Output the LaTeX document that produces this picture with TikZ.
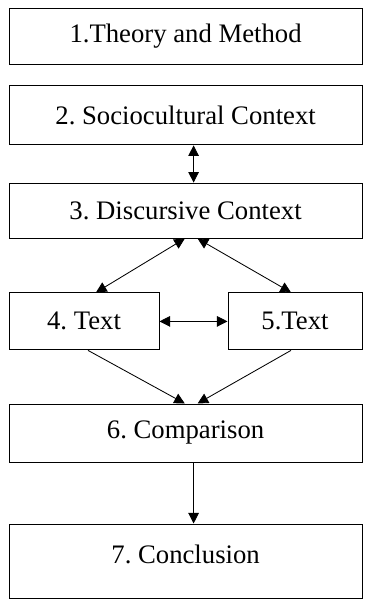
\documentclass[tikz,border=0pt]{standalone}
\usepackage{fontspec}
\setmainfont{Liberation Serif}
\usetikzlibrary{arrows.meta}
\frenchspacing

\begin{document}
\begin{tikzpicture}[scale=1,
  stage/.style={draw,line width=0.7pt,minimum width=8.825cm,minimum height=1.4cm,
    inner sep=0pt,font=\fontsize{19}{22}\selectfont},
  half/.style={stage,minimum width=3.6cm},
  link/.style={line width=0.6pt,-{Triangle[length=7.5pt,width=7.5pt]}},
  both/.style={line width=0.6pt,{Triangle[length=7.5pt,width=7.5pt]}-{Triangle[length=7.5pt,width=7.5pt]}}]
\useasboundingbox (0,0) rectangle (9.275,15.175);
\node [stage] (theory) at (4.64,14.275) {1.Theory and Method};
\node [stage,minimum height=1.475cm] (socio) at (4.64,12.29) {2. Sociocultural Context};
\node [stage,minimum height=1.375cm] (disc) at (4.64,9.91) {3. Discursive Context};
\node [half,minimum width=3.75cm,minimum height=1.425cm] (textA) at (2.1,7.14) {4. Text};
\node [half,minimum width=3.35cm,minimum height=1.425cm] (textB) at (7.375,7.14) {5.Text};
\node [stage,minimum height=1.45cm] (comp) at (4.64,4.35) {6. Comparison};
\node [stage,minimum height=1.85cm,text depth=0.35cm] (concl) at (4.64,1.15) {7. Conclusion};
\draw [both] ([xshift=0.2cm]socio.south) -- ([xshift=0.2cm]disc.north);
\draw [both] ([xshift=-0.02cm]disc.south) -- ([xshift=0.3cm]textA.north);
\draw [both] ([xshift=0.3cm]disc.south) -- ([xshift=-0.1cm]textB.north);
\draw [both] (textA.east) -- (textB.east -| textB.west);
\draw [link] ([xshift=0.1cm]textA.south) -- ([xshift=-0.02cm]comp.north);
\draw [link] ([xshift=-0.1cm]textB.south) -- ([xshift=0.3cm]comp.north);
\draw [link] ([xshift=0.2cm]comp.south) -- ([xshift=0.2cm]concl.north);
\end{tikzpicture}
\end{document}
